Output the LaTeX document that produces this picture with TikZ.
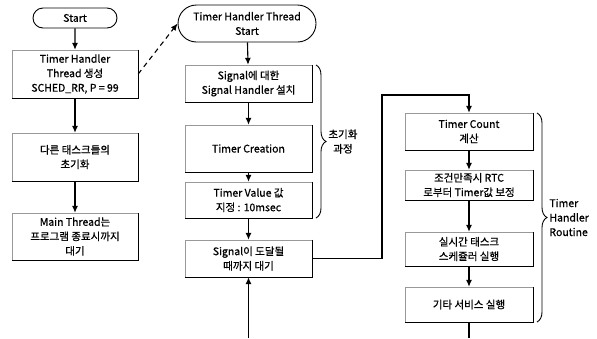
\documentclass[tikz,border=0pt]{standalone}
\usepackage{fontspec}
\setmainfont{Noto Sans CJK KR}[FakeBold=0.7]
\usetikzlibrary{shapes.misc,arrows.meta,decorations.pathreplacing}
\tikzset{
  txt/.style={font=\fontsize{10.5}{14.5}\selectfont, align=center, inner sep=0pt},
  boxL/.style={txt, minimum width=126pt},
  boxM/.style={txt, minimum width=127pt},
  boxR/.style={txt, minimum width=128pt},
  term/.style={txt, draw, line width=0.9pt, rounded rectangle},
  arr/.style={line width=1.1pt, -{Latex[length=7pt,width=6pt]}},
  dasharr/.style={line width=1.1pt, dashed, dash pattern=on 5pt off 4pt, -{Latex[length=7pt,width=6pt]}},
  brc/.style={line width=0.9pt, decorate, decoration={brace, amplitude=10pt}}
}
\begin{document}
\begin{tikzpicture}[x=1pt,y=-1pt]
\useasboundingbox (0,0) rectangle (597,338);
% left column
\node[term, minimum width=84pt, minimum height=20pt] (start) at (75,18) {Start};
\node[boxL, minimum height=48pt] (b1) at (75,74) {Timer Handler\\Thread 생성\\SCHED\_RR, P = 99};
\node[boxL, minimum height=48pt] (b2) at (75,157) {다른 태스크들의\\초기화};
\node[boxL, minimum height=47pt] (b3) at (75,236.5) {Main Thread는\\프로그램 종료시까지\\대기};
% middle column
\node[term, minimum width=138pt, minimum height=37pt] (ts) at (247,23.5) {Timer Handler Thread\\Start};
\node[boxM, minimum height=37pt] (a) at (248.5,83.5) {Signal에 대한\\Signal Handler 설치};
\node[boxM, minimum height=47pt] (bb) at (248.5,148.5) {Timer Creation};
\node[boxM, minimum height=36pt] (c) at (248.5,200) {Timer Value 값\\지정 : 10msec};
\node[boxM, minimum height=37pt] (d) at (248.5,258.5) {Signal이 도달될\\때까지 대기};
% right column
\node[boxR, minimum height=37pt] (e) at (469,131.5) {Timer Count\\계산};
\node[boxR, minimum height=30pt] (f) at (469,185) {조건만족시 RTC\\로부터 Timer값 보정};
\node[boxR, minimum height=34pt] (g) at (469,249) {실시간 태스크\\스케쥴러 실행};
\node[boxR, minimum height=35pt] (h) at (469,304.5) {기타 서비스 실행};
% box edges
\foreach \n in {b1,b2,b3,a,bb,c,d,e,f,g,h}{
  \draw[black!40, line width=0.5pt] (\n.south west) -- (\n.north west) -- (\n.north east);
  \draw[line width=1.3pt] (\n.north east) -- (\n.south east) -- (\n.south west);
}
% connectors
\draw[arr] (start) -- (b1);
\draw[arr] (b1) -- (b2);
\draw[arr] (b2) -- (b3);
\draw[dasharr] (b1.east) -- (ts.west);
\draw[arr] (ts) -- (a);
\draw[arr] (a) -- (bb);
\draw[arr] (bb) -- (c);
\draw[arr] (c) -- (d);
\coordinate (bot) at (248.5,338);
\draw[arr] (bot) -- (d.south);
\coordinate (j1) at (382,95);
\draw[arr] (d.east) -| (j1) -| (e.north);
\draw[arr] (e) -- (f);
\draw[arr] (f) -- (g);
\draw[arr] (g) -- (h);
\coordinate (bot2) at (469,338);
\draw[line width=1.1pt] (h.south) -- (bot2);
% braces
\draw[brc] (316,65) -- (316,218) node[midway, right=12pt, txt] (lab1) {초기화\\과정};
\draw[brc] (537,113) -- (537,322) node[midway, right=12pt, txt, align=left] (lab2) {Timer\\Handler\\Routine};
\end{tikzpicture}
\end{document}
